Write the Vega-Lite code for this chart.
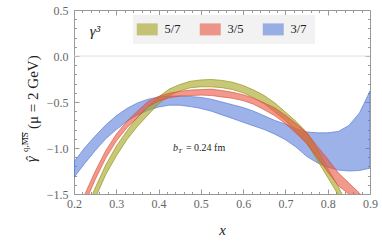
{
  "$schema": "https://vega.github.io/schema/vega-lite/v6.json",
  "width": 296,
  "height": 184,
  "autosize": {"type": "none"},
  "padding": {"left": 74, "top": 10, "right": 12, "bottom": 49},
  "config": {"view": {"stroke": null}, "font": "Liberation Serif"},
  "datasets": {
    "bands": [
      {"s": "3/7", "x": 0.2, "hi": -1.15, "lo": -1.32},
      {"s": "3/7", "x": 0.225, "hi": -1.0, "lo": -1.17},
      {"s": "3/7", "x": 0.25, "hi": -0.87, "lo": -1.03},
      {"s": "3/7", "x": 0.275, "hi": -0.75, "lo": -0.9},
      {"s": "3/7", "x": 0.3, "hi": -0.65, "lo": -0.8},
      {"s": "3/7", "x": 0.325, "hi": -0.57, "lo": -0.71},
      {"s": "3/7", "x": 0.35, "hi": -0.51, "lo": -0.64},
      {"s": "3/7", "x": 0.375, "hi": -0.47, "lo": -0.59},
      {"s": "3/7", "x": 0.4, "hi": -0.445, "lo": -0.555},
      {"s": "3/7", "x": 0.425, "hi": -0.435, "lo": -0.535},
      {"s": "3/7", "x": 0.45, "hi": -0.435, "lo": -0.535},
      {"s": "3/7", "x": 0.475, "hi": -0.44, "lo": -0.55},
      {"s": "3/7", "x": 0.5, "hi": -0.45, "lo": -0.57},
      {"s": "3/7", "x": 0.525, "hi": -0.47, "lo": -0.6},
      {"s": "3/7", "x": 0.55, "hi": -0.5, "lo": -0.64},
      {"s": "3/7", "x": 0.575, "hi": -0.53, "lo": -0.68},
      {"s": "3/7", "x": 0.6, "hi": -0.56, "lo": -0.72},
      {"s": "3/7", "x": 0.625, "hi": -0.6, "lo": -0.76},
      {"s": "3/7", "x": 0.65, "hi": -0.65, "lo": -0.8},
      {"s": "3/7", "x": 0.675, "hi": -0.7, "lo": -0.85},
      {"s": "3/7", "x": 0.7, "hi": -0.74, "lo": -0.91},
      {"s": "3/7", "x": 0.725, "hi": -0.79, "lo": -0.99},
      {"s": "3/7", "x": 0.75, "hi": -0.825, "lo": -1.09},
      {"s": "3/7", "x": 0.775, "hi": -0.835, "lo": -1.16},
      {"s": "3/7", "x": 0.8, "hi": -0.835, "lo": -1.21},
      {"s": "3/7", "x": 0.825, "hi": -0.82, "lo": -1.24},
      {"s": "3/7", "x": 0.85, "hi": -0.755, "lo": -1.25},
      {"s": "3/7", "x": 0.875, "hi": -0.62, "lo": -1.245},
      {"s": "3/7", "x": 0.9, "hi": -0.38, "lo": -1.22},

      {"s": "5/7", "x": 0.225, "hi": -1.71, "lo": -1.83},
      {"s": "5/7", "x": 0.25, "hi": -1.435, "lo": -1.55},
      {"s": "5/7", "x": 0.275, "hi": -1.185, "lo": -1.29},
      {"s": "5/7", "x": 0.3, "hi": -0.98, "lo": -1.087},
      {"s": "5/7", "x": 0.325, "hi": -0.815, "lo": -0.91},
      {"s": "5/7", "x": 0.35, "hi": -0.665, "lo": -0.765},
      {"s": "5/7", "x": 0.375, "hi": -0.55, "lo": -0.64},
      {"s": "5/7", "x": 0.4, "hi": -0.445, "lo": -0.52},
      {"s": "5/7", "x": 0.425, "hi": -0.36, "lo": -0.43},
      {"s": "5/7", "x": 0.45, "hi": -0.31, "lo": -0.38},
      {"s": "5/7", "x": 0.475, "hi": -0.275, "lo": -0.345},
      {"s": "5/7", "x": 0.5, "hi": -0.26, "lo": -0.335},
      {"s": "5/7", "x": 0.525, "hi": -0.255, "lo": -0.335},
      {"s": "5/7", "x": 0.55, "hi": -0.265, "lo": -0.345},
      {"s": "5/7", "x": 0.575, "hi": -0.285, "lo": -0.365},
      {"s": "5/7", "x": 0.6, "hi": -0.32, "lo": -0.4},
      {"s": "5/7", "x": 0.625, "hi": -0.37, "lo": -0.455},
      {"s": "5/7", "x": 0.65, "hi": -0.43, "lo": -0.52},
      {"s": "5/7", "x": 0.675, "hi": -0.51, "lo": -0.61},
      {"s": "5/7", "x": 0.7, "hi": -0.61, "lo": -0.7},
      {"s": "5/7", "x": 0.725, "hi": -0.71, "lo": -0.82},
      {"s": "5/7", "x": 0.75, "hi": -0.83, "lo": -0.94},
      {"s": "5/7", "x": 0.775, "hi": -1.01, "lo": -1.13},
      {"s": "5/7", "x": 0.8, "hi": -1.22, "lo": -1.32},
      {"s": "5/7", "x": 0.825, "hi": -1.42, "lo": -1.51},
      {"s": "5/7", "x": 0.85, "hi": -1.65, "lo": -1.75},
      {"s": "5/7", "x": 0.875, "hi": -1.9, "lo": -2.0},

      {"s": "3/5", "x": 0.2, "hi": -1.8, "lo": -1.9},
      {"s": "3/5", "x": 0.225, "hi": -1.51, "lo": -1.61},
      {"s": "3/5", "x": 0.25, "hi": -1.255, "lo": -1.345},
      {"s": "3/5", "x": 0.275, "hi": -1.03, "lo": -1.11},
      {"s": "3/5", "x": 0.3, "hi": -0.85, "lo": -0.925},
      {"s": "3/5", "x": 0.325, "hi": -0.71, "lo": -0.78},
      {"s": "3/5", "x": 0.35, "hi": -0.6, "lo": -0.67},
      {"s": "3/5", "x": 0.375, "hi": -0.495, "lo": -0.55},
      {"s": "3/5", "x": 0.4, "hi": -0.44, "lo": -0.49},
      {"s": "3/5", "x": 0.425, "hi": -0.405, "lo": -0.455},
      {"s": "3/5", "x": 0.45, "hi": -0.385, "lo": -0.435},
      {"s": "3/5", "x": 0.475, "hi": -0.37, "lo": -0.43},
      {"s": "3/5", "x": 0.5, "hi": -0.365, "lo": -0.425},
      {"s": "3/5", "x": 0.525, "hi": -0.36, "lo": -0.43},
      {"s": "3/5", "x": 0.55, "hi": -0.375, "lo": -0.445},
      {"s": "3/5", "x": 0.575, "hi": -0.395, "lo": -0.46},
      {"s": "3/5", "x": 0.6, "hi": -0.42, "lo": -0.485},
      {"s": "3/5", "x": 0.625, "hi": -0.46, "lo": -0.525},
      {"s": "3/5", "x": 0.65, "hi": -0.51, "lo": -0.585},
      {"s": "3/5", "x": 0.675, "hi": -0.565, "lo": -0.65},
      {"s": "3/5", "x": 0.7, "hi": -0.645, "lo": -0.735},
      {"s": "3/5", "x": 0.725, "hi": -0.735, "lo": -0.84},
      {"s": "3/5", "x": 0.75, "hi": -0.83, "lo": -0.95},
      {"s": "3/5", "x": 0.775, "hi": -0.98, "lo": -1.1},
      {"s": "3/5", "x": 0.8, "hi": -1.12, "lo": -1.26},
      {"s": "3/5", "x": 0.825, "hi": -1.27, "lo": -1.41},
      {"s": "3/5", "x": 0.85, "hi": -1.38, "lo": -1.5},
      {"s": "3/5", "x": 0.875, "hi": -1.49, "lo": -1.62},
      {"s": "3/5", "x": 0.9, "hi": -1.62, "lo": -1.75}
    ]
  },
  "layer": [
    {
      "data": {"values": [{"z": 0}]},
      "mark": {"type": "rule", "color": "#dedede", "strokeWidth": 1},
      "encoding": {
        "y": {"field": "z", "type": "quantitative", "axis": null, "scale": {"domain": [-1.5, 0.5], "nice": false, "zero": false}}
      }
    },
    {
      "data": {"name": "bands"},
      "mark": {"type": "area", "clip": true, "fillOpacity": 0.6, "strokeWidth": 0.7, "strokeOpacity": 0.9},
      "encoding": {
        "x": {
          "field": "x", "type": "quantitative",
          "scale": {"domain": [0.2, 0.9], "nice": false, "zero": false},
          "axis": {
            "orient": "bottom",
            "values": [0.2,0.22,0.24,0.26,0.28,0.3,0.32,0.34,0.36,0.38,0.4,0.42,0.44,0.46,0.48,0.5,0.52,0.54,0.56,0.58,0.6,0.62,0.64,0.66,0.68,0.7,0.72,0.74,0.76,0.78,0.8,0.82,0.84,0.86,0.88,0.9],
            "labelExpr": "abs(datum.value*10-round(datum.value*10))<0.001 ? format(datum.value,'.1f') : ''",
            "tickSize": {"condition": {"test": "abs(datum.value*10-round(datum.value*10))<0.001", "value": -5}, "value": -2.5},
            "tickColor": "#999999", "domainColor": "#999999", "labelColor": "#666666",
            "labelFont": "Liberation Serif", "labelFontSize": 12, "labelPadding": 9,
            "labelOverlap": false, "labelFlush": false, "grid": false,
            "title": "x", "titleFont": "Liberation Serif", "titleFontStyle": "italic", "titleFontWeight": "normal",
            "titleFontSize": 15, "titlePadding": 11, "titleColor": "#222222"
          }
        },
        "y": {
          "field": "hi", "type": "quantitative",
          "scale": {"domain": [-1.5, 0.5], "nice": false, "zero": false},
          "axis": {
            "orient": "left",
            "values": [-1.5,-1.4,-1.3,-1.2,-1.1,-1,-0.9,-0.8,-0.7,-0.6,-0.5,-0.4,-0.3,-0.2,-0.1,0,0.1,0.2,0.3,0.4,0.5],
            "labelExpr": "abs(datum.value*2-round(datum.value*2))<0.001 ? format(datum.value,'.1f') : ''",
            "tickSize": {"condition": {"test": "abs(datum.value*2-round(datum.value*2))<0.001", "value": -5}, "value": -2.5},
            "tickColor": "#999999", "domainColor": "#999999", "labelColor": "#666666",
            "labelFont": "Liberation Serif", "labelFontSize": 12, "labelPadding": 11,
            "labelOverlap": false, "labelFlush": false, "grid": false, "title": null
          }
        },
        "y2": {"field": "lo"},
        "color": {
          "field": "s", "type": "nominal",
          "scale": {"domain": ["5/7", "3/5", "3/7"], "range": ["#a3a41e", "#e8553f", "#5a7fd8"]},
          "legend": {
            "orient": "none", "legendX": 59, "legendY": 5, "direction": "horizontal", "title": null,
            "fillColor": "#f2f2f2", "padding": 8, "symbolType": "M-1.75,-1H1.75V1H-1.75Z", "symbolSize": 144,
            "symbolOpacity": 0.6, "symbolStrokeWidth": 0, "labelOffset": 11, "columnPadding": 18,
            "labelFont": "Liberation Serif", "labelFontSize": 12.5, "labelColor": "#222222"
          }
        },
        "stroke": {
          "field": "s", "type": "nominal",
          "scale": {"domain": ["5/7", "3/5", "3/7"], "range": ["#8e8f10", "#dd4a34", "#4f74d0"]},
          "legend": null
        }
      }
    },
    {
      "data": {"name": "bands"},
      "mark": {"type": "point", "opacity": 0},
      "encoding": {
        "x": {
          "field": "x", "type": "quantitative",
          "scale": {"domain": [0.2, 0.9], "nice": false, "zero": false},
          "axis": {
            "orient": "top",
            "values": [0.2,0.22,0.24,0.26,0.28,0.3,0.32,0.34,0.36,0.38,0.4,0.42,0.44,0.46,0.48,0.5,0.52,0.54,0.56,0.58,0.6,0.62,0.64,0.66,0.68,0.7,0.72,0.74,0.76,0.78,0.8,0.82,0.84,0.86,0.88,0.9],
            "labels": false, "title": null, "grid": false,
            "tickSize": {"condition": {"test": "abs(datum.value*10-round(datum.value*10))<0.001", "value": -5}, "value": -2.5},
            "tickColor": "#999999", "domainColor": "#999999"
          }
        },
        "y": {
          "field": "hi", "type": "quantitative",
          "scale": {"domain": [-1.5, 0.5], "nice": false, "zero": false},
          "axis": {
            "orient": "right",
            "values": [-1.5,-1.4,-1.3,-1.2,-1.1,-1,-0.9,-0.8,-0.7,-0.6,-0.5,-0.4,-0.3,-0.2,-0.1,0,0.1,0.2,0.3,0.4,0.5],
            "labels": false, "title": null, "grid": false,
            "tickSize": {"condition": {"test": "abs(datum.value*2-round(datum.value*2))<0.001", "value": -5}, "value": -2.5},
            "tickColor": "#999999", "domainColor": "#999999"
          }
        }
      }
    },
    {
      "data": {"values": [{"t": "γ³"}]},
      "mark": {"type": "text", "font": "Liberation Serif", "fontStyle": "italic", "fontSize": 15, "align": "center", "baseline": "middle", "color": "#222222"},
      "encoding": {
        "text": {"field": "t"},
        "x": {"datum": 0.2497, "type": "quantitative", "axis": null, "scale": {"domain": [0.2, 0.9], "nice": false, "zero": false}},
        "y": {"datum": 0.27, "type": "quantitative", "axis": null, "scale": {"domain": [-1.5, 0.5], "nice": false, "zero": false}}
      }
    },
    {
      "data": {"values": [{"t": "b"}]},
      "mark": {"type": "text", "font": "Liberation Serif", "fontStyle": "italic", "fontSize": 10, "align": "left", "baseline": "alphabetic", "color": "#222222"},
      "encoding": {
        "text": {"field": "t"},
        "x": {"datum": 0.434, "type": "quantitative", "axis": null, "scale": {"domain": [0.2, 0.9], "nice": false, "zero": false}},
        "y": {"datum": -1.03, "type": "quantitative", "axis": null, "scale": {"domain": [-1.5, 0.5], "nice": false, "zero": false}}
      }
    },
    {
      "data": {"values": [{"t": "T"}]},
      "mark": {"type": "text", "font": "Liberation Serif", "fontStyle": "italic", "fontSize": 7, "align": "left", "baseline": "alphabetic", "dx": 5, "dy": 2, "color": "#222222"},
      "encoding": {
        "text": {"field": "t"},
        "x": {"datum": 0.434, "type": "quantitative", "axis": null, "scale": {"domain": [0.2, 0.9], "nice": false, "zero": false}},
        "y": {"datum": -1.03, "type": "quantitative", "axis": null, "scale": {"domain": [-1.5, 0.5], "nice": false, "zero": false}}
      }
    },
    {
      "data": {"values": [{"t": "= 0.24 fm"}]},
      "mark": {"type": "text", "font": "Liberation Serif", "fontSize": 10, "align": "left", "baseline": "alphabetic", "dx": 13, "color": "#222222"},
      "encoding": {
        "text": {"field": "t"},
        "x": {"datum": 0.434, "type": "quantitative", "axis": null, "scale": {"domain": [0.2, 0.9], "nice": false, "zero": false}},
        "y": {"datum": -1.03, "type": "quantitative", "axis": null, "scale": {"domain": [-1.5, 0.5], "nice": false, "zero": false}}
      }
    },
    {
      "data": {"values": [{"t": "(μ = 2 GeV)"}]},
      "mark": {"type": "text", "font": "Liberation Serif", "fontSize": 15, "align": "center", "baseline": "middle", "angle": 270, "color": "#222222"},
      "encoding": {
        "text": {"field": "t"},
        "x": {"datum": 0.1019, "type": "quantitative", "axis": null, "scale": {"domain": [0.2, 0.9], "nice": false, "zero": false}},
        "y": {"datum": -0.393, "type": "quantitative", "axis": null, "scale": {"domain": [-1.5, 0.5], "nice": false, "zero": false}}
      }
    },
    {
      "data": {"values": [{"t": "γ"}]},
      "mark": {"type": "text", "font": "Liberation Serif", "fontStyle": "italic", "fontSize": 15, "align": "center", "baseline": "alphabetic", "angle": 270, "color": "#222222"},
      "encoding": {
        "text": {"field": "t"},
        "x": {"datum": 0.1103, "type": "quantitative", "axis": null, "scale": {"domain": [0.2, 0.9], "nice": false, "zero": false}},
        "y": {"datum": -1.122, "type": "quantitative", "axis": null, "scale": {"domain": [-1.5, 0.5], "nice": false, "zero": false}}
      }
    },
    {
      "data": {"values": [{"t": "ˆ"}]},
      "mark": {"type": "text", "font": "Liberation Serif", "fontSize": 14, "align": "center", "baseline": "alphabetic", "angle": 270, "dx": 1, "color": "#222222"},
      "encoding": {
        "text": {"field": "t"},
        "x": {"datum": 0.1103, "type": "quantitative", "axis": null, "scale": {"domain": [0.2, 0.9], "nice": false, "zero": false}},
        "y": {"datum": -1.122, "type": "quantitative", "axis": null, "scale": {"domain": [-1.5, 0.5], "nice": false, "zero": false}}
      }
    },
    {
      "data": {"values": [{"t": "q,MS"}]},
      "mark": {"type": "text", "font": "Liberation Serif", "fontSize": 9, "align": "center", "baseline": "alphabetic", "angle": 270, "color": "#222222"},
      "encoding": {
        "text": {"field": "t"},
        "x": {"datum": 0.0912, "type": "quantitative", "axis": null, "scale": {"domain": [0.2, 0.9], "nice": false, "zero": false}},
        "y": {"datum": -0.937, "type": "quantitative", "axis": null, "scale": {"domain": [-1.5, 0.5], "nice": false, "zero": false}}
      }
    },
    {
      "data": {"values": [{"o": "overline"}]},
      "mark": {"type": "rule", "color": "#222222", "strokeWidth": 0.7},
      "encoding": {
        "x": {"datum": 0.0784, "type": "quantitative", "axis": null, "scale": {"domain": [0.2, 0.9], "nice": false, "zero": false}},
        "y": {"datum": -0.828, "type": "quantitative", "axis": null, "scale": {"domain": [-1.5, 0.5], "nice": false, "zero": false}},
        "y2": {"datum": -0.964}
      }
    }
  ],
  "resolve": {"axis": {"x": "independent", "y": "independent"}}
}
